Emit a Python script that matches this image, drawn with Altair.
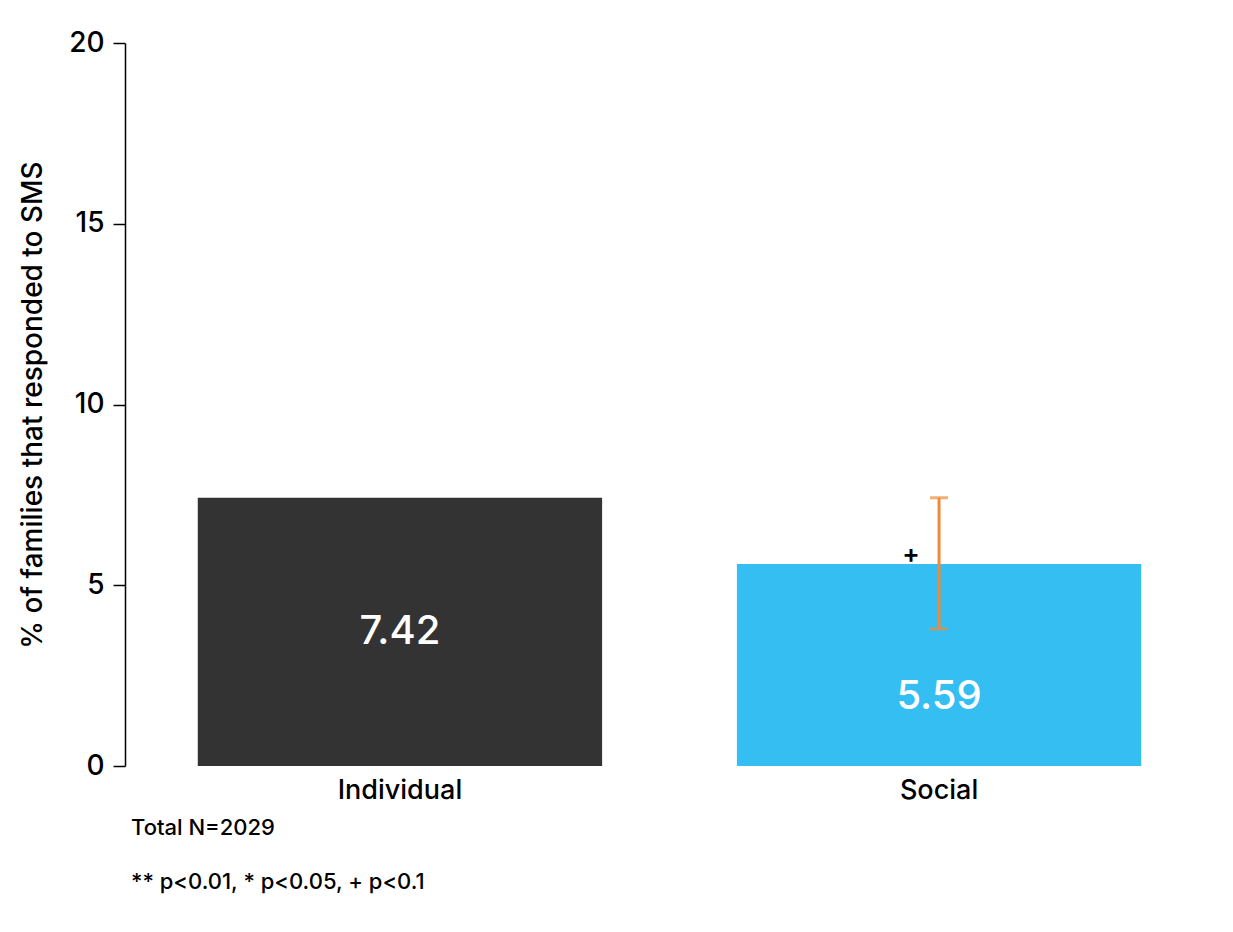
import altair as alt
import pandas as pd

groups = ["Individual", "Social"]
values = [7.42, 5.59]
colors = ["#333333", "#35BEF1"]
err_lo = [None, 3.79]
err_hi = [None, 7.42]
sig = ["", "+"]
footnotes = ["Total N=2029", "** p<0.01, * p<0.05, + p<0.1"]
y_title = "% of families that responded to SMS"

df = pd.DataFrame({"group": groups, "value": values, "color": colors,
                   "lo": err_lo, "hi": err_hi, "sig": sig})
df["label"] = df["value"].map(lambda v: f"{v:.2f}")
df["label_y"] = [(lo if pd.notna(lo) else v) / 2 for v, lo in zip(df["value"], df["lo"])]

FONT = "Inter"

x = alt.X("group:N", sort=groups, title=None,
          scale=alt.Scale(paddingInner=0.25, paddingOuter=0.135),
          axis=alt.Axis(domain=False, ticks=False, labelAngle=0, labelFontSize=27,
                        labelFontWeight=500, labelPadding=11, labelColor="black",
                        labelFont=FONT))
y = alt.Y("value:Q", title=y_title,
          scale=alt.Scale(domain=[0, 20], nice=False),
          axis=alt.Axis(values=[0, 5, 10, 15, 20], grid=False, tickSize=12,
                        tickColor="black", domainColor="black", tickWidth=1.5,
                        domainWidth=1.5, labelFontSize=28, labelFontWeight=500,
                        labelPadding=9, labelColor="black", labelFont=FONT,
                        titleFont=FONT, titleFontSize=28, titleFontWeight=500,
                        titleColor="black", titlePadding=21))

base = alt.Chart(df)

bars = base.mark_bar().encode(
    x=x, y=y, color=alt.Color("color:N", scale=None, legend=None))

labels = base.mark_text(color="white", fontSize=40, fontWeight=500, font=FONT,
                        baseline="middle").encode(
    x=alt.X("group:N", sort=groups), y=alt.Y("label_y:Q"), text="label:N")

err = base.transform_filter("isValid(datum.lo)")
err_rule = err.mark_rule(color="#EE8A3C", strokeWidth=3).encode(
    x=alt.X("group:N", sort=groups), y="lo:Q", y2="hi:Q")
cap_lo = err.mark_tick(color="#EE8A3C", size=18, thickness=3, orient="horizontal").encode(
    x=alt.X("group:N", sort=groups), y="lo:Q")
cap_hi = err.mark_tick(color="#EE8A3C", size=18, thickness=3, orient="horizontal").encode(
    x=alt.X("group:N", sort=groups), y="hi:Q")

sig_text = base.transform_filter("datum.sig != ''").mark_text(
    fontSize=26, fontWeight=600, font=FONT, color="black", dx=-28, dy=4,
    baseline="bottom").encode(
    x=alt.X("group:N", sort=groups), y="value:Q", text="sig:N")

chart = alt.layer(bars, labels, err_rule, cap_lo, cap_hi, sig_text).properties(
    width=1089, height=723,
    padding={"left": 117, "top": 35, "right": 10, "bottom": 150},
    autosize=alt.AutoSizeParams(type="none"),
    title=alt.TitleParams(text=footnotes, orient="bottom", anchor="start",
                          frame="group", dx=6, fontSize=22, font=FONT,
                          fontWeight=500, color="black", lineHeight=54,
                          offset=15, baseline="top"),
).configure_view(stroke=None)

chart.save("out.html", embed_options={"renderer": "svg", "actions": False})
